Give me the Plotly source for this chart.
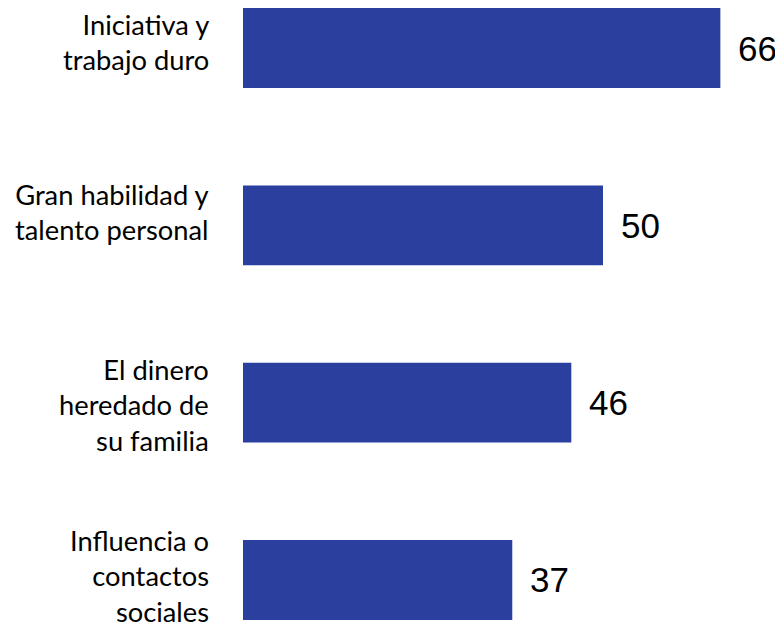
import plotly.graph_objects as go

categories = [
    "Iniciativa y<br>trabajo duro",
    "Gran habilidad y<br>talento personal",
    "El dinero<br>heredado de<br>su familia",
    "Influencia o<br>contactos<br>sociales",
]
# bar lengths; the labels show them rounded
values = [66.3, 50.0, 45.6, 37.4]

BAR_COLOR = "#2B3F9F"
# small vertical nudges (px) of the category labels, as in the reference
LABEL_NUDGE = [6, 13, -2, 4]

fig = go.Figure()
fig.add_trace(go.Bar(
    x=values,
    y=categories,
    orientation="h",
    width=0.45,
    marker=dict(color=BAR_COLOR, line=dict(width=0)),
    hoverinfo="skip",
))

for cat, val, nudge in zip(categories, values, LABEL_NUDGE):
    fig.add_annotation(
        x=val, y=cat, text=str(round(val)), showarrow=False,
        xanchor="left", yanchor="middle", xshift=16,
        font=dict(family="Liberation Sans, Arial", size=35, color="#000000"),
    )
    fig.add_annotation(
        x=0, y=cat, text=cat, showarrow=False,
        xanchor="right", yanchor="middle", align="right",
        xshift=-33, yshift=nudge, borderpad=0,
        font=dict(family="Lato", size=27.3, color="#000000"),
    )

# the page body adds an 8px offset, so the figure is 8px smaller each way
fig.update_layout(
    width=775, height=622,
    margin=dict(l=235, r=0, t=0, b=0),
    paper_bgcolor="white", plot_bgcolor="white",
    showlegend=False,
    xaxis=dict(range=[0, 75.0], visible=False, fixedrange=True),
    yaxis=dict(
        type="category",
        categoryorder="array", categoryarray=categories,
        range=[3.282, -0.2256],
        showgrid=False, zeroline=False, showline=False, ticks="",
        showticklabels=False,
    ),
)

fig.write_html("out.html")
